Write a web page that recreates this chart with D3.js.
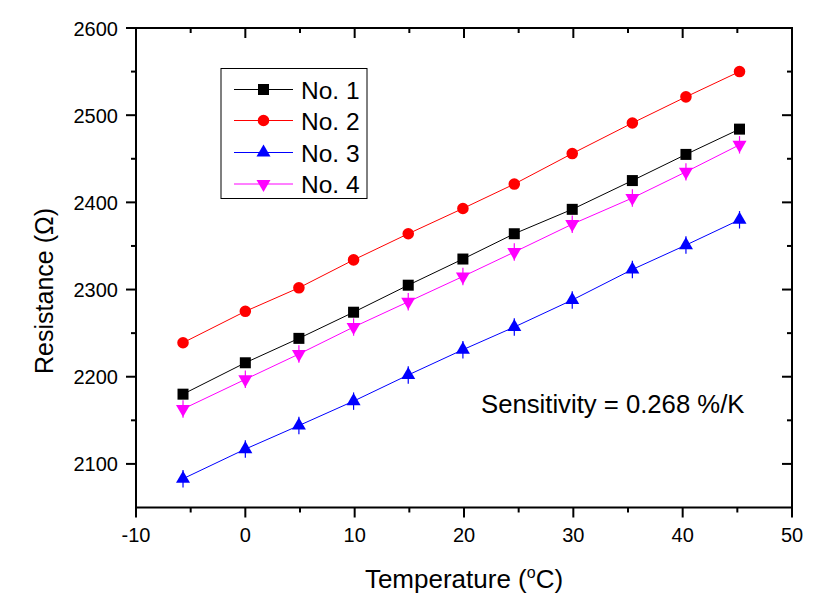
<!DOCTYPE html>
<html><head><meta charset="utf-8">
<script src="https://cdn.jsdelivr.net/npm/d3@7"></script>
<style>body{margin:0;background:#fff}svg{display:block;font-family:Arial,"Liberation Sans",sans-serif}</style>
</head><body><svg id="c" width="819" height="604"></svg>
<script>
const temps = [-5.7, 0, 4.9, 9.9, 14.9, 19.9, 24.6, 29.9, 35.4, 40.3, 45.2];
const no1 = [2180, 2216, 2244, 2274, 2305, 2335, 2364, 2392, 2425, 2455, 2484];
const no2 = [2239, 2275, 2302, 2334, 2364, 2393, 2421, 2456, 2491, 2521, 2550];
const no3 = [2083, 2117, 2144, 2172, 2202, 2231, 2257, 2288, 2323, 2351, 2380];
const no4 = [2163, 2197, 2226, 2257, 2286, 2315, 2343, 2375, 2405, 2435, 2466];
const err1 = [4, 4, 4, 4, 4, 4, 4, 4, 4, 4, 4];
const err2 = [4, 4, 4, 4, 4, 4, 4, 4, 4, 4, 4];
const err3 = [10, 10, 10, 10, 10, 10, 10, 10, 10, 10, 10];
const err4 = [10, 10, 10, 10, 10, 10, 10, 10, 10, 10, 10];
const seriesNames = ["No. 1", "No. 2", "No. 3", "No. 4"];
const seriesColors = ["#000000", "#ff0000", "#0000ff", "#ff00ff"];
const seriesSymbols = ["square", "circle", "triangleUp", "triangleDown"];
const xTicks = [-10, 0, 10, 20, 30, 40, 50];
const yTicks = [2100, 2200, 2300, 2400, 2500, 2600];
const annotation = "Sensitivity = 0.268 %/K";

const svg = d3.select("#c");
const L = 136, R = 792, T = 28, B = 507.5;
const x = d3.scaleLinear().domain([-10, 50]).range([L, R]);
const y = d3.scaleLinear().domain([2050, 2600]).range([B, T]);

const seriesData = [no1, no2, no3, no4];
const seriesErr = [err1, err2, err3, err4];

// frame
svg.append("rect").attr("x", L).attr("y", T).attr("width", R - L).attr("height", B - T)
  .attr("fill", "none").attr("stroke", "#000").attr("stroke-width", 2);

// ticks
const xMinor = d3.range(-5, 50, 10);
const yMinor = d3.range(2150, 2600, 100);
const tk = svg.append("g").attr("stroke", "#000").attr("stroke-width", 2);
xTicks.forEach(v => {
  tk.append("line").attr("x1", x(v)).attr("x2", x(v)).attr("y1", B).attr("y2", B + 10);
  tk.append("line").attr("x1", x(v)).attr("x2", x(v)).attr("y1", T).attr("y2", T + 10);
});
xMinor.forEach(v => {
  tk.append("line").attr("x1", x(v)).attr("x2", x(v)).attr("y1", B).attr("y2", B + 5);
  tk.append("line").attr("x1", x(v)).attr("x2", x(v)).attr("y1", T).attr("y2", T + 5);
});
yTicks.forEach(v => {
  tk.append("line").attr("y1", y(v)).attr("y2", y(v)).attr("x1", L).attr("x2", L - 10);
  tk.append("line").attr("y1", y(v)).attr("y2", y(v)).attr("x1", R).attr("x2", R - 10);
});
yMinor.forEach(v => {
  tk.append("line").attr("y1", y(v)).attr("y2", y(v)).attr("x1", L).attr("x2", L - 5);
  tk.append("line").attr("y1", y(v)).attr("y2", y(v)).attr("x1", R).attr("x2", R - 5);
});

// tick labels
svg.append("g").selectAll("text").data(xTicks).join("text")
  .attr("x", d => x(d)).attr("y", 542).attr("text-anchor", "middle")
  .attr("font-size", 20).text(d => d);
svg.append("g").selectAll("text").data(yTicks).join("text")
  .attr("x", 118).attr("y", d => y(d) + 7.5).attr("text-anchor", "end")
  .attr("font-size", 20).text(d => d);

// axis titles
const xt = svg.append("text").attr("x", 464).attr("y", 588)
  .attr("text-anchor", "middle").attr("font-size", 26);
xt.append("tspan").text("Temperature (");
xt.append("tspan").attr("font-size", 16).attr("dy", -10).text("o");
xt.append("tspan").attr("dy", 10).text("C)");
svg.append("text").attr("transform", "translate(53,291) rotate(-90)")
  .attr("text-anchor", "middle").attr("font-size", 25).text("Resistance (\u03A9)");

// symbols
const symMap = {
  square: () => d3.symbol(d3.symbolSquare, 121)(),
  circle: () => d3.symbol(d3.symbolCircle, 105)(),
  triangleUp: () => d3.symbol(d3.symbolTriangle, 85)(),
  triangleDown: () => d3.symbol(d3.symbolTriangle, 85)()
};
function drawSym(g, type, cx, cy, color) {
  g.append("path").attr("d", symMap[type]())
    .attr("transform", `translate(${cx},${cy})` + (type === "triangleDown" ? " rotate(180)" : ""))
    .attr("fill", color);
}

// series
const line = d3.line().x((d, i) => x(temps[i])).y(d => y(d));
seriesData.forEach((vals, s) => {
  const g = svg.append("g");
  g.append("path").attr("d", line(vals)).attr("fill", "none")
    .attr("stroke", seriesColors[s]).attr("stroke-width", 1);
  vals.forEach((v, i) => {
    const e = seriesErr[s][i];
    g.append("line").attr("x1", x(temps[i])).attr("x2", x(temps[i]))
      .attr("y1", y(v - e)).attr("y2", y(v + e))
      .attr("stroke", seriesColors[s]).attr("stroke-width", 1.2);
    drawSym(g, seriesSymbols[s], x(temps[i]), y(v), seriesColors[s]);
  });
});

// legend
const lg = svg.append("g");
lg.append("rect").attr("x", 221).attr("y", 68.5).attr("width", 146).attr("height", 130)
  .attr("fill", "#fff").attr("stroke", "#000").attr("stroke-width", 1);
const rows = [89.5, 120.5, 152.5, 184];
seriesNames.forEach((n, s) => {
  lg.append("line").attr("x1", 234).attr("x2", 293).attr("y1", rows[s]).attr("y2", rows[s])
    .attr("stroke", seriesColors[s]).attr("stroke-width", 1);
  drawSym(lg, seriesSymbols[s], 263.5, rows[s], seriesColors[s]);
  lg.append("text").attr("x", 301).attr("y", rows[s] + 9).attr("font-size", 24.5).text(n);
});

// annotation
svg.append("text").attr("x", 481).attr("y", 413).attr("font-size", 25.7).text(annotation);
</script></body></html>
